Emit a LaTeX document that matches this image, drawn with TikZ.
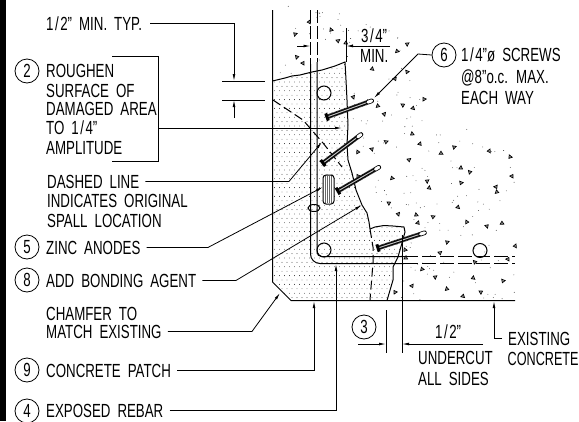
\documentclass[tikz,border=0pt]{standalone}
\usepackage{fontspec}
\setmainfont[FakeStretch=.7,WordSpace=1.9]{Liberation Sans}
\usetikzlibrary{calc,arrows.meta}
\tikzset{
  note/.style={anchor=base west,inner sep=0pt,font=\fontsize{19}{20}\selectfont},
  tag/.style={circle,draw,line width=.8pt,minimum size=24pt,inner sep=0pt,font=\fontsize{19}{20}\selectfont},
  ln/.style={line width=1pt},
  leader/.style={line width=.8pt,-{Latex[length=7pt,width=2.8pt]}},
  plain/.style={line width=.8pt},
  aggr/.style={line width=.7pt,fill=black!35},
}
\def\fr#1#2{#1\kern1.5pt/\kern1.5pt#2}
\def\drawScrew(#1,#2){%
  \draw[line width=4.6pt,black!85,dash pattern=on .9pt off .4pt] (#1) -- ($(#1)!.86!(#2)$);
  \draw[line width=1pt,double=black!25,double distance=1pt] (#1) -- ($(#1)!.86!(#2)$);
  \draw[line width=4.6pt,line cap=round] ($(#1)!.87!(#2)$) -- ($(#1)!.95!(#2)$);
  \draw[line width=3pt,line cap=round,white] ($(#1)!.87!(#2)$) -- ($(#1)!.95!(#2)$);
  \draw[line width=3pt] ($(#1)!3.8pt!90:(#2)$) -- ($(#1)!3.8pt!-90:(#2)$);
}
\begin{document}
\begin{tikzpicture}[x=1pt,y=-1pt]
  \useasboundingbox (0,0) rectangle (579,421);
  \fill (0,0) rectangle (6,421);
  % patch stipple
  \begin{scope}
    \clip (272.5,81) -- (285,78) -- (300,74) -- (322,70) -- (346,62) -- (347,110) -- (348,140) -- (347,160)
      -- (352,173) -- (356,190) -- (362,205) -- (367,213) -- (370,228) -- (375,227) -- (393,226) -- (404,227)
      -- (402,243) -- (398,257) -- (393,267) -- (392,280) -- (387,300.5) -- (291,300.5) -- (272.5,282) -- cycle;
    \foreach \j in {0,...,54}
      \foreach \i in {0,...,27}
        \fill[black!85] ({272+\i*5+mod(\j,2)*2.5},{60+\j*4.4}) circle (.42pt);
  \end{scope}
  % existing concrete
  \begin{scope}
    \clip (272,5) -- (345,5) -- (400,35) -- (430,95) -- (470,130) -- (516,150) -- (516,300) -- (388,300)
      -- (405,228) -- (348,170) -- (346,62) -- (272,80) -- cycle;
    \pgfmathsetseed{57}
    \foreach \n in {1,...,300} {
      \pgfmathsetmacro\px{272+rnd*244}
      \pgfmathsetmacro\py{5+rnd*295}
      \fill[black!80] (\px,\py) circle (.42pt);
    }
  \end{scope}
  \foreach \x/\y [count=\n] in {295/34,309/22,331/30,338/41,346/43,297/57,303/63,397/51,407/44,372/69,407/72,395/79,
      378/106,403/105,413/108,424/99,384/114,412/134,386/142,420/144,358/152,372/149,441/153,454/147,489/151,
      510/157,409/160,461/168,470/172,512/176,392/178,427/181,429/188,461/183,496/187,497/192,389/203,458/207,
      358/176,398/214,416/215,433/217,418/223,467/222,487/226,502/223,447/242,515/246,405/250,440/253,406/258,
      475/262,508/259,422/269,435/277,473/278,503/281,412/286,447/289,481/292,463/296,395/292,353/97}
    \draw[aggr,shift={(\x,\y)},rotate=\n*47] (-1.9,1.2) -- (1.9,1.2) -- (0,-1.8) -- cycle;

  % outline
  \draw[ln] (272.5,10) -- (272.5,282) -- (291,300.5) -- (515,300.5);
  \draw[ln] (272.5,81) -- (285,78) -- (292,76) -- (300,75) -- (312,72) -- (322,70) -- (335,66) -- (345,62)
    -- (346,80) -- (347,100) -- (348,125) -- (347,145) -- (348,160) -- (352,173) -- (356,190) -- (360,200)
    -- (362,205) -- (367,213) -- (369,222) -- (370,229);
  \draw[ln] (370,229) -- (375,227) -- (384,225.5) -- (393,226) -- (404,227) -- (405,232) -- (402,243) -- (400,250)
    -- (398,257) -- (393,267) -- (393,280) -- (387,300.5);
  \draw[ln,dash pattern=on 9pt off 4pt] (273,100) -- (303,120) -- (323,143) -- (342,167);
  \draw[ln,dash pattern=on 9pt off 4pt] (370,229) -- (373,247) -- (373,263) -- (370,300);

  % rebar
  \draw[ln,dash pattern=on 13pt off 3pt] (310.5,10) -- (310.5,64);
  \draw[ln,dash pattern=on 13pt off 3pt] (317,10) -- (317,62);
  \draw[ln] (310.5,64) -- (310.5,254) arc[start angle=180,end angle=90,radius=9.5] -- (404,263.5);
  \draw[ln] (317,62) -- (317,252) arc[start angle=180,end angle=90,radius=4.5] -- (404,256.5);
  \draw[ln,dash pattern=on 14pt off 4pt] (404,256.5) -- (515,256.5);
  \draw[ln,dash pattern=on 14pt off 4pt] (404,263) -- (515,263);
  \draw[ln] (324,93) circle (7);
  \draw[ln] (324,250) circle (7);
  \draw[ln] (480,250.5) circle (7);
  \draw[ln] (314,208) ellipse (6 and 3.5);

  % anode
  \draw[ln,fill=white,rounded corners=3pt] (323,175) rectangle (334,204);
  \foreach \i in {325.5,327.5,329.5,331.5}
    \draw[plain,black!60] (\i,176) -- (\i,203);

  % screws
  \coordinate (S1) at (327,117);
  \coordinate (T1) at (374,100);
  \coordinate (S2) at (323,163);
  \coordinate (T2) at (363,133);
  \coordinate (S3) at (338,191);
  \coordinate (T3) at (381,166);
  \coordinate (S4) at (378,248);
  \coordinate (T4) at (427,232);
  \drawScrew(S1,T1)
  \drawScrew(S2,T2)
  \drawScrew(S3,T3)
  \drawScrew(S4,T4)

  % notes
  \node[note] (typ) at (46,30) {\fr{1}{2}" MIN. TYP.};
  \node[tag] (n2) at (27,71) {2};
  \node[note] (rough1) at (46,77) {ROUGHEN};
  \node[note] (rough2) at (46,97) {SURFACE OF};
  \node[note] (rough3) at (46,115) {DAMAGED AREA};
  \node[note] (rough4) at (46,134) {TO \fr{1}{4}"};
  \node[note] (rough5) at (46,154) {AMPLITUDE};
  \node[note] (dash1) at (47,188) {DASHED LINE};
  \node[note] (dash2) at (47,207) {INDICATES ORIGINAL};
  \node[note] (dash3) at (47,227) {SPALL LOCATION};
  \node[tag] (n5) at (27,247) {5};
  \node[note] (zinc) at (46,254) {ZINC ANODES};
  \node[tag] (n8) at (27,280) {8};
  \node[note] (bond) at (46,287) {ADD BONDING AGENT};
  \node[note] (cham1) at (46,320) {CHAMFER TO};
  \node[note] (cham2) at (46,338) {MATCH EXISTING};
  \node[tag] (n9) at (27,370) {9};
  \node[note] (patch) at (46,377) {CONCRETE PATCH};
  \node[tag] (n4) at (27,411) {4};
  \node[note] (rebar) at (46,417) {EXPOSED REBAR};
  \node[tag] (n6) at (444,55) {6};
  \node[note] (scr1) at (461,61) {\fr{1}{4}"ø SCREWS};
  \node[note] (scr2) at (461,83) {@8"o.c. MAX.};
  \node[note] (scr3) at (461,104) {EACH WAY};
  \node[note] (min1) at (361,42) {\fr{3}{4}"};
  \node[note] (min2) at (360,62) {MIN.};
  \node[tag] (n3) at (364,327) {3};
  \node[note] (half) at (435,338) {\fr{1}{2}"};
  \node[note] (und1) at (418,364) {UNDERCUT};
  \node[note] (und2) at (418,385) {ALL SIDES};
  \node[note] (ex1) at (508,345) {EXISTING};
  \node[note,xscale=.95,transform shape] (ex2) at (507.5,365) {CONCRETE};

  % leaders
  \coordinate (typT) at (234,81);
  \coordinate (gapT) at (234,100);
  \coordinate (gapB) at (234,118);
  \draw[leader,shorten <=8pt] (typ.east) -| (typT);
  \draw[leader] (gapB) -- (gapT);
  \draw[plain] (222,81) -- (265,81);
  \draw[plain] (222,100) -- (265,100);

  \coordinate (brA) at (112,56);
  \coordinate (brB) at (158,56);
  \coordinate (brC) at (158,161);
  \coordinate (brD) at (112,161);
  \coordinate (brM) at (158,128);
  \coordinate (brT) at (342,128);
  \draw[plain] (brA) -- (brB) -- (brC) -- (brD);
  \draw[leader] (brM) -- (brT);

  \coordinate (dashK) at (289,181);
  \coordinate (dashT) at (322,142);
  \draw[leader,shorten <=6pt] (dash1.east) -- (dash1.east -| dashK) -- (dashT);
  \coordinate (zincK) at (208,247);
  \coordinate (zincT) at (323,187);
  \draw[leader,shorten <=6pt] (zinc.east) -- (zinc.east -| zincK) -- (zincT);
  \coordinate (bondK) at (236,280);
  \coordinate (bondT) at (362,205);
  \draw[leader,shorten <=6pt] (bond.east) -- (bond.east -| bondK) -- (bondT);
  \coordinate (chamK) at (252,331);
  \coordinate (chamT) at (280,293);
  \draw[leader,shorten <=6pt] (cham2.east) -- (cham2.east -| chamK) -- (chamT);
  \coordinate (patchT) at (314,301);
  \draw[leader,shorten <=6pt] (patch.east) -| (patchT);
  \coordinate (rebarT) at (336,264);
  \draw[leader,shorten <=6pt] (rebar.east) -| (rebarT);
  \coordinate (scrK) at (418,54);
  \coordinate (scrT) at (374,98);
  \draw[leader] (n6.west) -- (scrK) -- (scrT);
  \coordinate (exT) at (494,301);
  \draw[leader,shorten <=6pt] (ex1.west) -| (exT);

  % dimensions
  \coordinate (wL) at (297,46);
  \coordinate (wA) at (310.5,46);
  \coordinate (wB) at (346,46);
  \coordinate (wR) at (390,46);
  \draw[leader] (wL) -- (wA);
  \draw[leader] (wR) -- (wB);
  \draw[plain] (346,28) -- (346,62);
  \coordinate (cL) at (358,344);
  \coordinate (cA) at (386,344);
  \coordinate (cB) at (402,344);
  \coordinate (cR) at (483,344);
  \draw[leader] (cL) -- (cA);
  \draw[leader] (cR) -- (cB);
  \draw[plain] (386,310) -- (386,353);
  \draw[plain] (402,235) -- (402,353);
\end{tikzpicture}
\end{document}
